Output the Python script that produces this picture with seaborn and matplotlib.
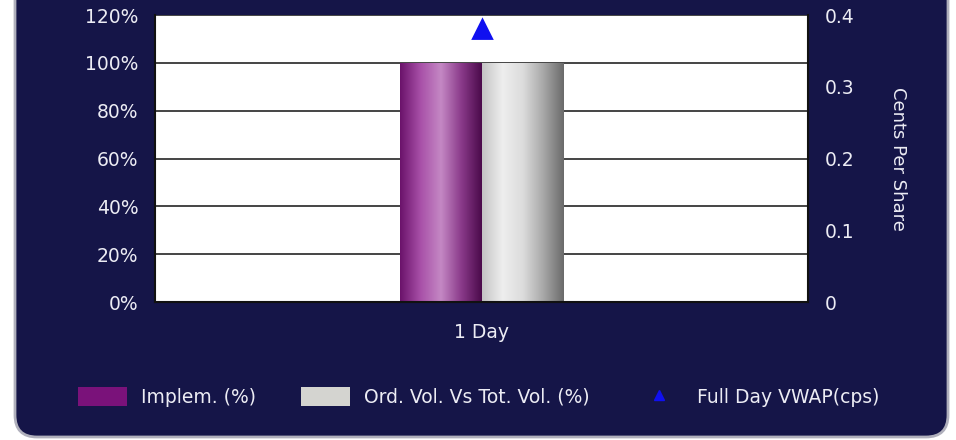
import numpy as np
import pandas as pd
import matplotlib
matplotlib.use('Agg')
import matplotlib.pyplot as plt
import seaborn as sns
from matplotlib.patches import FancyBboxPatch, Patch
from matplotlib.lines import Line2D
from matplotlib.colors import LinearSegmentedColormap

# data
periods = ['1 Day']
implem_pct = [100]
ord_vol_pct = [100]
vwap_cps = [0.38]
series_names = ['Implem. (%)', 'Ord. Vol. Vs Tot. Vol. (%)']
vwap_name = 'Full Day VWAP(cps)'
left_ticks = [0, 20, 40, 60, 80, 100, 120]
right_ticks = [0, 0.1, 0.2, 0.3, 0.4]

sns.set_style('white')
plt.rcParams['font.family'] = ['DejaVu Sans']

navy = '#151548'
txt = '#ececf4'

df = pd.DataFrame({
    'period': periods * 2,
    'value': implem_pct + ord_vol_pct,
    'series': [series_names[0]] * len(periods) + [series_names[1]] * len(periods),
})

fig = plt.figure(figsize=(9.56, 4.4), dpi=100)
fig.patch.set_facecolor('white')
# dark rounded panel behind everything
panel = FancyBboxPatch((0.15, 0.03), 9.33, 5.0,
                       boxstyle='round,pad=0,rounding_size=0.22',
                       transform=fig.dpi_scale_trans,
                       facecolor=navy, edgecolor='#b0b0bc', linewidth=2, zorder=-1)
fig.patches.append(panel)

ax = fig.add_axes([155/956, 1-302/440, 653/956, 287/440])
ax.set_facecolor('white')

sns.barplot(data=df, x='period', y='value', hue='series',
            palette=['#7a1a7a', '#c8c8c8'], width=0.25, ax=ax, legend=False,
            saturation=1)

# gradient fills clipped to each bar
cmaps = [
    LinearSegmentedColormap.from_list('pur', ['#6a126a', '#a850a8', '#c488c4', '#8a3a8a', '#4a0a4a']),
    LinearSegmentedColormap.from_list('sil', ['#c4c4c4', '#eeeeee', '#dcdcdc', '#a8a8a8', '#6a6a6a']),
]
grad = np.linspace(0, 1, 256).reshape(1, -1)
for i, p in enumerate(ax.patches):
    x0, y0 = p.get_x(), p.get_y()
    w, h = p.get_width(), p.get_height()
    im = ax.imshow(grad, cmap=cmaps[i % 2], aspect='auto',
                   extent=[x0, x0 + w, y0, y0 + h], zorder=2, interpolation='bicubic')
    im.set_clip_path(p)
    p.set_facecolor('none')
    p.set_edgecolor('none')

ax.set_xlim(-0.5, 0.5)
ax.set_ylim(0, 120)
ax.set_yticks(left_ticks)
ax.set_yticklabels([f'{t}%' for t in left_ticks], color=txt, fontsize=13.5)
ax.tick_params(axis='y', length=0, pad=12)
ax.tick_params(axis='x', length=0, pad=15, labelcolor=txt, labelsize=13.5)
ax.set_xlabel('')
ax.set_ylabel('')
ax.yaxis.grid(True, color='#444444', linewidth=1.4)
ax.set_axisbelow(True)
for s in ['left', 'right', 'bottom']:
    ax.spines[s].set_color('#111111')
    ax.spines[s].set_linewidth(1.5)
ax.spines['top'].set_visible(False)

ax2 = ax.twinx()
sns.pointplot(x=periods, y=vwap_cps, ax=ax2, color='#1010f0', markers='^',
              linestyles='none', markersize=13)
ax2.set_xlim(-0.5, 0.5)
ax2.set_ylim(0, 0.4)
ax2.set_yticks(right_ticks)
ax2.set_yticklabels(['0', '0.1', '0.2', '0.3', '0.4'], color=txt, fontsize=13.5)
ax2.tick_params(axis='y', length=0, pad=12)
ax2.set_ylabel('Cents Per Share', color=txt, fontsize=13, rotation=270, labelpad=38)
for s in ax2.spines.values():
    s.set_visible(False)

handles = [Patch(facecolor='#7a127a', edgecolor='none'),
           Patch(facecolor='#d4d4d0', edgecolor='none'),
           Line2D([], [], marker='^', color='#1010f0', linestyle='none', markersize=7)]
leg = fig.legend(handles, series_names + [vwap_name], loc='center',
                 bbox_to_anchor=(479/956, 1-397/440), ncol=3, frameon=False,
                 fontsize=13.5, handlelength=2.6, handleheight=1.2,
                 handletextpad=0.75, columnspacing=2.4)
for t in leg.get_texts():
    t.set_color(txt)

fig.savefig('out.png', dpi=100, facecolor='white')
